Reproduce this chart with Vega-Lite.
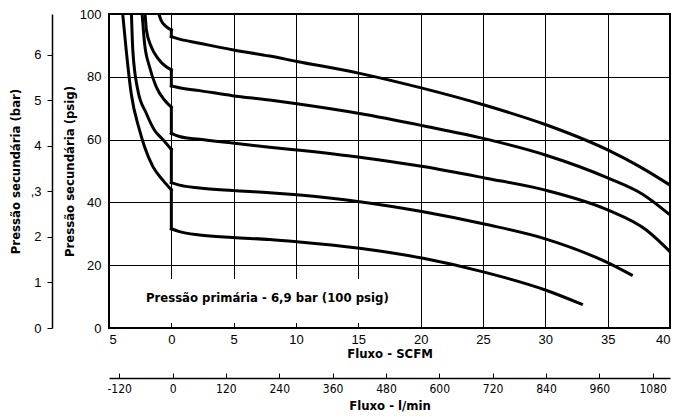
{
  "$schema": "https://vega.github.io/schema/vega-lite/v6.json",
  "width": 561,
  "height": 314,
  "autosize": "none",
  "padding": {"left": 109, "top": 14, "right": 5, "bottom": 88},
  "background": "white",
  "config": {
    "view": {"stroke": "#000", "strokeWidth": 2},
    "font": "Liberation Sans",
    "axis": {"gridColor": "#000", "gridOpacity": 1, "gridWidth": 1, "labelColor": "#000", "titleColor": "#000", "domainColor": "#000", "tickColor": "#000"}
  },
  "datasets": {
    "curves": [
      {"curve": 1, "part": "L", "i": 1, "scfm": -1.0, "psig": 100},
      {"curve": 1, "part": "L", "i": 2, "scfm": -0.81, "psig": 97.9},
      {"curve": 1, "part": "L", "i": 3, "scfm": -0.41, "psig": 96.0},
      {"curve": 1, "part": "L", "i": 4, "scfm": 0, "psig": 94.9},
      {"curve": 1, "part": "V", "i": 1, "scfm": 0, "psig": 94.9},
      {"curve": 1, "part": "V", "i": 2, "scfm": 0, "psig": 92.8},
      {"curve": 1, "part": "R", "i": 1, "scfm": 0, "psig": 92.8},
      {"curve": 1, "part": "R", "i": 2, "scfm": 0.65, "psig": 92.0},
      {"curve": 1, "part": "R", "i": 3, "scfm": 2.26, "psig": 90.7},
      {"curve": 1, "part": "R", "i": 4, "scfm": 4.9, "psig": 88.6},
      {"curve": 1, "part": "R", "i": 5, "scfm": 7.88, "psig": 86.6},
      {"curve": 1, "part": "R", "i": 6, "scfm": 10.07, "psig": 84.9},
      {"curve": 1, "part": "R", "i": 7, "scfm": 15.1, "psig": 81.1},
      {"curve": 1, "part": "R", "i": 8, "scfm": 20.2, "psig": 76.3},
      {"curve": 1, "part": "R", "i": 9, "scfm": 25.1, "psig": 71.0},
      {"curve": 1, "part": "R", "i": 10, "scfm": 30, "psig": 64.8},
      {"curve": 1, "part": "R", "i": 11, "scfm": 35, "psig": 56.7},
      {"curve": 1, "part": "R", "i": 12, "scfm": 37.6, "psig": 51.3},
      {"curve": 1, "part": "R", "i": 13, "scfm": 40, "psig": 45.5},

      {"curve": 2, "part": "L", "i": 1, "scfm": -2.1, "psig": 100},
      {"curve": 2, "part": "L", "i": 2, "scfm": -2.0, "psig": 94.9},
      {"curve": 2, "part": "L", "i": 3, "scfm": -1.61, "psig": 89.6},
      {"curve": 2, "part": "L", "i": 4, "scfm": -1.08, "psig": 85.9},
      {"curve": 2, "part": "L", "i": 5, "scfm": -0.41, "psig": 83.2},
      {"curve": 2, "part": "L", "i": 6, "scfm": 0, "psig": 82.2},
      {"curve": 2, "part": "V", "i": 1, "scfm": 0, "psig": 82.2},
      {"curve": 2, "part": "V", "i": 2, "scfm": 0, "psig": 77.1},
      {"curve": 2, "part": "R", "i": 1, "scfm": 0, "psig": 77.1},
      {"curve": 2, "part": "R", "i": 2, "scfm": 0.65, "psig": 76.5},
      {"curve": 2, "part": "R", "i": 3, "scfm": 2.26, "psig": 75.6},
      {"curve": 2, "part": "R", "i": 4, "scfm": 4.9, "psig": 74.0},
      {"curve": 2, "part": "R", "i": 5, "scfm": 7.88, "psig": 72.6},
      {"curve": 2, "part": "R", "i": 6, "scfm": 10.07, "psig": 71.4},
      {"curve": 2, "part": "R", "i": 7, "scfm": 15.1, "psig": 68.3},
      {"curve": 2, "part": "R", "i": 8, "scfm": 20.2, "psig": 64.4},
      {"curve": 2, "part": "R", "i": 9, "scfm": 25.1, "psig": 60.3},
      {"curve": 2, "part": "R", "i": 10, "scfm": 30, "psig": 55.1},
      {"curve": 2, "part": "R", "i": 11, "scfm": 35, "psig": 47.8},
      {"curve": 2, "part": "R", "i": 12, "scfm": 37.8, "psig": 42.6},
      {"curve": 2, "part": "R", "i": 13, "scfm": 40, "psig": 36.0},

      {"curve": 3, "part": "L", "i": 1, "scfm": -2.34, "psig": 100},
      {"curve": 3, "part": "L", "i": 2, "scfm": -2.15, "psig": 90.7},
      {"curve": 3, "part": "L", "i": 3, "scfm": -1.75, "psig": 83.2},
      {"curve": 3, "part": "L", "i": 4, "scfm": -1.21, "psig": 76.8},
      {"curve": 3, "part": "L", "i": 5, "scfm": -0.55, "psig": 72.6},
      {"curve": 3, "part": "L", "i": 6, "scfm": 0, "psig": 70.3},
      {"curve": 3, "part": "V", "i": 1, "scfm": 0, "psig": 70.3},
      {"curve": 3, "part": "V", "i": 2, "scfm": 0, "psig": 62.0},
      {"curve": 3, "part": "R", "i": 1, "scfm": 0, "psig": 62.0},
      {"curve": 3, "part": "R", "i": 2, "scfm": 0.65, "psig": 61.0},
      {"curve": 3, "part": "R", "i": 3, "scfm": 2.26, "psig": 60.1},
      {"curve": 3, "part": "R", "i": 4, "scfm": 4.9, "psig": 58.9},
      {"curve": 3, "part": "R", "i": 5, "scfm": 7.88, "psig": 57.6},
      {"curve": 3, "part": "R", "i": 6, "scfm": 10.07, "psig": 56.7},
      {"curve": 3, "part": "R", "i": 7, "scfm": 15.1, "psig": 54.4},
      {"curve": 3, "part": "R", "i": 8, "scfm": 20.2, "psig": 51.4},
      {"curve": 3, "part": "R", "i": 9, "scfm": 25.1, "psig": 47.8},
      {"curve": 3, "part": "R", "i": 10, "scfm": 30, "psig": 43.9},
      {"curve": 3, "part": "R", "i": 11, "scfm": 35, "psig": 37.6},
      {"curve": 3, "part": "R", "i": 12, "scfm": 38.1, "psig": 31.2},
      {"curve": 3, "part": "R", "i": 13, "scfm": 40, "psig": 24.3},

      {"curve": 4, "part": "L", "i": 1, "scfm": -3.2, "psig": 100},
      {"curve": 4, "part": "L", "i": 2, "scfm": -3.09, "psig": 88.5},
      {"curve": 4, "part": "L", "i": 3, "scfm": -2.69, "psig": 75.8},
      {"curve": 4, "part": "L", "i": 4, "scfm": -2.01, "psig": 68.4},
      {"curve": 4, "part": "L", "i": 5, "scfm": -1.35, "psig": 63.0},
      {"curve": 4, "part": "L", "i": 6, "scfm": -0.68, "psig": 60.0},
      {"curve": 4, "part": "L", "i": 7, "scfm": 0, "psig": 56.9},
      {"curve": 4, "part": "V", "i": 1, "scfm": 0, "psig": 56.9},
      {"curve": 4, "part": "V", "i": 2, "scfm": 0, "psig": 46.3},
      {"curve": 4, "part": "R", "i": 1, "scfm": 0, "psig": 46.3},
      {"curve": 4, "part": "R", "i": 2, "scfm": 0.65, "psig": 45.5},
      {"curve": 4, "part": "R", "i": 3, "scfm": 2.26, "psig": 44.6},
      {"curve": 4, "part": "R", "i": 4, "scfm": 4.9, "psig": 43.8},
      {"curve": 4, "part": "R", "i": 5, "scfm": 7.88, "psig": 43.1},
      {"curve": 4, "part": "R", "i": 6, "scfm": 10.07, "psig": 42.4},
      {"curve": 4, "part": "R", "i": 7, "scfm": 15.1, "psig": 40.2},
      {"curve": 4, "part": "R", "i": 8, "scfm": 20.2, "psig": 37.0},
      {"curve": 4, "part": "R", "i": 9, "scfm": 25.1, "psig": 33.1},
      {"curve": 4, "part": "R", "i": 10, "scfm": 30, "psig": 28.4},
      {"curve": 4, "part": "R", "i": 11, "scfm": 35, "psig": 20.8},
      {"curve": 4, "part": "R", "i": 12, "scfm": 36.9, "psig": 16.9},

      {"curve": 5, "part": "L", "i": 1, "scfm": -3.9, "psig": 100},
      {"curve": 5, "part": "L", "i": 2, "scfm": -3.62, "psig": 88.5},
      {"curve": 5, "part": "L", "i": 3, "scfm": -3.22, "psig": 74.7},
      {"curve": 5, "part": "L", "i": 4, "scfm": -2.55, "psig": 63.0},
      {"curve": 5, "part": "L", "i": 5, "scfm": -2.15, "psig": 57.7},
      {"curve": 5, "part": "L", "i": 6, "scfm": -1.48, "psig": 51.4},
      {"curve": 5, "part": "L", "i": 7, "scfm": -0.68, "psig": 47.1},
      {"curve": 5, "part": "L", "i": 8, "scfm": 0, "psig": 44.0},
      {"curve": 5, "part": "V", "i": 1, "scfm": 0, "psig": 44.0},
      {"curve": 5, "part": "V", "i": 2, "scfm": 0, "psig": 31.6},
      {"curve": 5, "part": "R", "i": 1, "scfm": 0, "psig": 31.6},
      {"curve": 5, "part": "R", "i": 2, "scfm": 0.65, "psig": 30.7},
      {"curve": 5, "part": "R", "i": 3, "scfm": 2.26, "psig": 29.6},
      {"curve": 5, "part": "R", "i": 4, "scfm": 4.9, "psig": 28.8},
      {"curve": 5, "part": "R", "i": 5, "scfm": 7.88, "psig": 28.2},
      {"curve": 5, "part": "R", "i": 6, "scfm": 10.07, "psig": 27.5},
      {"curve": 5, "part": "R", "i": 7, "scfm": 15.1, "psig": 25.4},
      {"curve": 5, "part": "R", "i": 8, "scfm": 20.2, "psig": 22.2},
      {"curve": 5, "part": "R", "i": 9, "scfm": 25.1, "psig": 17.8},
      {"curve": 5, "part": "R", "i": 10, "scfm": 30, "psig": 12.1},
      {"curve": 5, "part": "R", "i": 11, "scfm": 32.9, "psig": 7.6}
    ]
  },
  "layer": [
    {
      "layer": [
        {
          "data": {"values": [{"scfm": -4, "scfm2": 18.5, "psig": 1.6, "psig2": 15.6}]},
          "mark": {"type": "rect", "fill": "white", "stroke": null},
          "encoding": {
            "x": {"field": "scfm", "type": "quantitative", "scale": {"domain": [-5, 40], "nice": false, "zero": false},
              "axis": {"values": [-5, 0, 5, 10, 15, 20, 25, 30, 35, 40], "grid": true, "domain": false, "ticks": false,
                "labelExpr": "datum.value < 0 ? '5' : datum.label", "labelFontSize": 13, "labelPadding": 5, "labelFont": "Liberation Sans",
                "title": "Fluxo - SCFM", "titleFont": "DejaVu Sans Condensed", "titleFontWeight": "bold", "titleFontSize": 13, "titlePadding": 1}},
            "x2": {"field": "scfm2"},
            "y": {"field": "psig", "type": "quantitative", "scale": {"domain": [0, 100], "nice": false},
              "axis": {"values": [0, 20, 40, 60, 80, 100], "grid": true, "domain": false, "ticks": false,
                "labelFontSize": 13, "labelPadding": 8, "labelFont": "Liberation Sans",
                "title": "Pressão secundária (psig)", "titleFont": "DejaVu Sans Condensed", "titleFontWeight": "bold", "titleFontSize": 13, "titlePadding": 3}},
            "y2": {"field": "psig2"}
          }
        },
        {
          "data": {"name": "curves"},
          "mark": {"type": "line", "stroke": "#000", "strokeWidth": 3, "clip": true, "interpolate": "monotone", "strokeCap": "square"},
          "encoding": {
            "x": {"field": "scfm", "type": "quantitative"},
            "y": {"field": "psig", "type": "quantitative"},
            "detail": [{"field": "curve", "type": "nominal"}, {"field": "part", "type": "nominal"}],
            "order": {"field": "i", "type": "quantitative"}
          }
        },
        {
          "data": {"values": [{"scfm": 7.7, "psig": 9.6, "label": "Pressão primária - 6,9 bar (100 psig)"}]},
          "mark": {"type": "text", "font": "DejaVu Sans Condensed", "fontWeight": "bold", "fontSize": 13, "color": "#000", "baseline": "middle", "align": "center"},
          "encoding": {
            "x": {"field": "scfm", "type": "quantitative"},
            "y": {"field": "psig", "type": "quantitative"},
            "text": {"field": "label"}
          }
        }
      ]
    },
    {
      "data": {"values": [{"bar": 0}, {"bar": 6.897}]},
      "mark": {"type": "point", "opacity": 0},
      "encoding": {
        "y": {"field": "bar", "type": "quantitative", "scale": {"domain": [0, 6.897], "nice": false},
          "axis": {"orient": "left", "offset": 57, "values": [0, 1, 2, 3, 4, 5, 6], "grid": false, "domain": true, "domainWidth": 1.5,
            "ticks": true, "tickSize": 5, "labelFontSize": 13, "labelPadding": 6, "labelFont": "Liberation Sans",
            "labelExpr": "datum.value == 3 ? ',3' : datum.label",
            "title": "Pressão secundária (bar)", "titleFont": "DejaVu Sans Condensed", "titleFontWeight": "bold", "titleFontSize": 13, "titlePadding": 8}}
      }
    },
    {
      "data": {"values": [{"lmin": -143}, {"lmin": 1119}]},
      "mark": {"type": "point", "opacity": 0},
      "encoding": {
        "x": {"field": "lmin", "type": "quantitative", "scale": {"domain": [-143, 1119], "nice": false, "zero": false},
          "axis": {"orient": "bottom", "offset": 50, "values": [-120, 0, 120, 240, 360, 480, 600, 720, 840, 960, 1080], "grid": false,
            "domain": true, "domainWidth": 1.5, "ticks": true, "tickSize": -5, "labelPadding": 10, "labelFontSize": 12, "labelFont": "DejaVu Sans Condensed",
            "labelExpr": "'' + datum.value",
            "title": "Fluxo - l/min", "titleFont": "DejaVu Sans Condensed", "titleFontWeight": "bold", "titleFontSize": 13, "titlePadding": 5}}
      }
    }
  ],
  "resolve": {"scale": {"x": "independent", "y": "independent"}}
}
